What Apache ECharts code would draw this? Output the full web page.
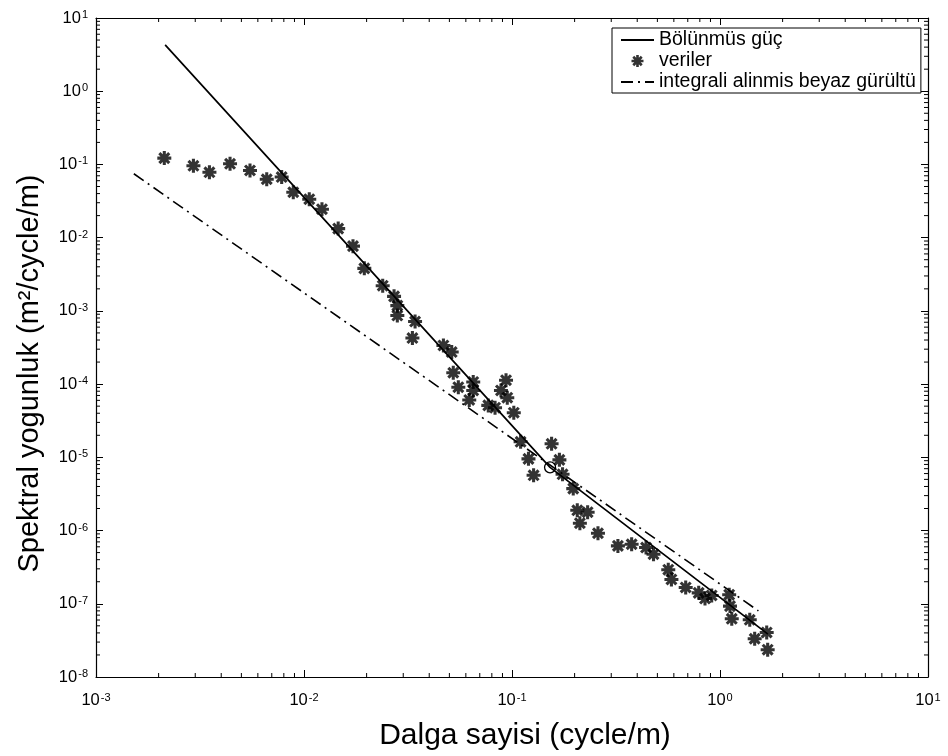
<!DOCTYPE html>
<html><head><meta charset="utf-8">
<script src="https://cdn.jsdelivr.net/npm/echarts@6/dist/echarts.min.js"></script>
<style>html,body{margin:0;padding:0;background:#fff}#c{width:948px;height:756px}</style>
</head><body><div id="c"></div>
<script>
// ---- tick labels (exponents of 10) ----
const xTickExps = ['-3', '-2', '-1', '0', '1'];
const yTickExps = ['-8', '-7', '-6', '-5', '-4', '-3', '-2', '-1', '0', '1'];
const minorMultipliers = [2, 3, 4, 5, 6, 7, 8, 9];
const xDecades = [1e-3, 1e-2, 1e-1, 1];
const yDecades = [1e-8, 1e-7, 1e-6, 1e-5, 1e-4, 1e-3, 1e-2, 1e-1, 1];

// ---- series names ----
const seriesNames = ['Bölünmüs güç', 'veriler', 'integrali alinmis beyaz gürültü'];

// ---- veriler (data points) ----
const dataK = [0.00213, 0.00294, 0.00351, 0.00441, 0.00550, 0.00662, 0.00781, 0.00888, 0.0106, 0.0122,
  0.0146, 0.0172, 0.0195, 0.0239, 0.0271, 0.0281, 0.0281, 0.0342, 0.0332, 0.0468,
  0.0513, 0.0522, 0.0552, 0.0651, 0.0651, 0.0623, 0.0769, 0.0829, 0.0936, 0.0885,
  0.0949, 0.102, 0.110, 0.120, 0.127, 0.155, 0.169, 0.175, 0.197, 0.206,
  0.231, 0.212, 0.259, 0.323, 0.376, 0.441, 0.479, 0.564, 0.584, 0.684,
  0.790, 0.847, 0.912, 1.107, 1.117, 1.139, 1.390, 1.468, 1.677, 1.695];
const dataS = [0.122, 0.0959, 0.0782, 0.102, 0.0828, 0.0628, 0.0673, 0.0417, 0.0335, 0.0245,
  0.0133, 7.66e-3, 3.81e-3, 2.21e-3, 1.58e-3, 1.18e-3, 8.63e-4, 7.15e-4, 4.26e-4, 3.37e-4,
  2.74e-4, 1.43e-4, 9.08e-5, 1.07e-4, 8.19e-5, 6.08e-5, 5.12e-5, 4.76e-5, 1.13e-4, 8.19e-5,
  6.52e-5, 4.07e-5, 1.63e-5, 9.53e-6, 5.68e-6, 1.53e-5, 9.24e-6, 5.86e-6, 3.74e-6, 1.89e-6,
  1.78e-6, 1.26e-6, 9.19e-7, 6.17e-7, 6.50e-7, 5.86e-7, 4.75e-7, 2.92e-7, 2.15e-7, 1.67e-7,
  1.41e-7, 1.18e-7, 1.30e-7, 1.33e-7, 9.29e-8, 6.24e-8, 6.04e-8, 3.33e-8, 4.06e-8, 2.36e-8];

// ---- Bölünmüs güç (broken power law) ----
const fitK = [0.00215, 0.1524, 1.70];
const fitS = [4.29, 7.30e-6, 3.85e-8];
const fitBreakIndex = 1;

// ---- integrali alinmis beyaz gürültü ----
const noiseK = [0.00152, 1.53];
const noiseS = [0.0746, 8.0e-8];

// asterisk marker path (+ and x combined)
function asteriskPath() {
  const c = 50, L = 50, W = 11;
  let d = '';
  [0, 45, 90, 135].forEach(function (deg) {
    const a = deg * Math.PI / 180;
    const ux = Math.cos(a), uy = Math.sin(a), vx = -uy, vy = ux;
    const pts = [[c + ux * L + vx * W, c + uy * L + vy * W], [c + ux * L - vx * W, c + uy * L - vy * W],
                 [c - ux * L - vx * W, c - uy * L - vy * W], [c - ux * L + vx * W, c - uy * L + vy * W]];
    d += 'M' + pts.map(function (p) { return p[0].toFixed(2) + ' ' + p[1].toFixed(2); }).join(' L') + ' Z ';
  });
  return 'path://' + d;
}

const FONT = 'Liberation Sans';
const tickRich = {
  b: { fontFamily: FONT, fontSize: 16.5, color: '#000' },
  s: { fontFamily: FONT, fontSize: 11, color: '#000', verticalAlign: 'top', padding: [0, 0, 0, 1] }
};
function expLabel(arr, offset) {
  return function (v) {
    const e = Math.round(Math.log10(v));
    return '{b|10}{s|' + arr[e + offset] + '}';
  };
}

const minorX = [];
xDecades.forEach(function (d) { minorMultipliers.forEach(function (m) { minorX.push([m * d, 1]); }); });
const minorY = [];
yDecades.forEach(function (d) { minorMultipliers.forEach(function (m) { minorY.push([0.01, m * d]); }); });

const axisCommon = {
  type: 'log', logBase: 10,
  axisLine: { show: true, lineStyle: { color: '#000', width: 1.2 } },
  axisTick: { show: true, inside: true, length: 7, lineStyle: { color: '#000', width: 1 } },
  splitLine: { show: false }, minorTick: { show: false }
};

const chart = echarts.init(document.getElementById('c'), null, { renderer: 'canvas' });
chart.setOption({
  backgroundColor: '#fff',
  animation: false,
  grid: { left: 96, right: 20, top: 18, bottom: 78, containLabel: false },
  xAxis: [
    Object.assign({}, axisCommon, {
      min: 1e-3, max: 10, position: 'bottom',
      axisLabel: { formatter: expLabel(xTickExps, 3), rich: tickRich, margin: 15 },
      name: 'Dalga sayisi (cycle/m)', nameLocation: 'middle', nameGap: 44,
      nameTextStyle: { fontFamily: FONT, fontSize: 30, color: '#000', padding: [0, 0, 0, 26] }
    }),
    Object.assign({}, axisCommon, { min: 1e-3, max: 10, position: 'top', axisLabel: { show: false } })
  ],
  yAxis: [
    Object.assign({}, axisCommon, {
      min: 1e-8, max: 10, position: 'left',
      axisLabel: { formatter: expLabel(yTickExps, 8), rich: tickRich, margin: 8 },
      name: 'Spektral yogunluk (m²/cycle/m)', nameLocation: 'middle', nameGap: 52,
      nameTextStyle: { fontFamily: FONT, fontSize: 29, color: '#000', padding: [0, 52, 0, 0] }
    }),
    Object.assign({}, axisCommon, { min: 1e-8, max: 10, position: 'right', axisLabel: { show: false } })
  ],
  legend: {
    data: [
      { name: seriesNames[0], itemStyle: { opacity: 0 } },
      { name: seriesNames[1] },
      { name: seriesNames[2], itemStyle: { opacity: 0 } }
    ],
    orient: 'vertical', left: 612, top: 28,
    itemWidth: 33, itemHeight: 12, itemGap: 1,
    padding: [2, 5, 1, 8],
    backgroundColor: '#fff', borderColor: '#000', borderWidth: 1, borderRadius: 0,
    selectedMode: false,
    textStyle: { fontFamily: FONT, fontSize: 19.5, color: '#000', lineHeight: 18 }
  },
  series: [
    {
      name: seriesNames[0], type: 'line', xAxisIndex: 0, yAxisIndex: 0,
      data: fitK.map(function (k, i) {
        return i === fitBreakIndex
          ? { value: [k, fitS[i]], symbol: 'circle', symbolSize: 11,
              itemStyle: { color: 'rgba(0,0,0,0)', borderColor: '#000', borderWidth: 1.3 } }
          : { value: [k, fitS[i]], symbol: 'none' };
      }),
      symbol: 'none', showSymbol: true, color: '#000',
      lineStyle: { color: '#000', width: 1.7 }, z: 3
    },
    {
      name: seriesNames[1], type: 'scatter', xAxisIndex: 0, yAxisIndex: 0,
      data: dataK.map(function (k, i) { return [k, dataS[i]]; }),
      symbol: asteriskPath(), symbolSize: 14, color: '#000',
      itemStyle: { color: '#000' }, z: 4
    },
    {
      name: seriesNames[2], type: 'line', xAxisIndex: 0, yAxisIndex: 0,
      data: noiseK.map(function (k, i) { return [k, noiseS[i]]; }),
      symbol: 'none', color: '#000',
      lineStyle: { color: '#000', width: 1.6, type: [12, 5, 2, 5] }, z: 2
    },
    {
      type: 'custom', xAxisIndex: 0, yAxisIndex: 0, silent: true, z: 1,
      data: minorX,
      renderItem: function (params, api) {
        const p = api.coord([api.value(0), api.value(1)]);
        const cs = params.coordSys;
        return { type: 'group', children: [
          { type: 'line', shape: { x1: p[0], y1: cs.y + cs.height, x2: p[0], y2: cs.y + cs.height - 4 }, style: { stroke: '#000', lineWidth: 1 } },
          { type: 'line', shape: { x1: p[0], y1: cs.y, x2: p[0], y2: cs.y + 4 }, style: { stroke: '#000', lineWidth: 1 } }
        ] };
      }
    },
    {
      type: 'custom', xAxisIndex: 0, yAxisIndex: 0, silent: true, z: 1,
      data: minorY,
      renderItem: function (params, api) {
        const p = api.coord([api.value(0), api.value(1)]);
        const cs = params.coordSys;
        return { type: 'group', children: [
          { type: 'line', shape: { x1: cs.x, y1: p[1], x2: cs.x + 4, y2: p[1] }, style: { stroke: '#000', lineWidth: 1 } },
          { type: 'line', shape: { x1: cs.x + cs.width, y1: p[1], x2: cs.x + cs.width - 4, y2: p[1] }, style: { stroke: '#000', lineWidth: 1 } }
        ] };
      }
    }
  ]
});
</script></body></html>
